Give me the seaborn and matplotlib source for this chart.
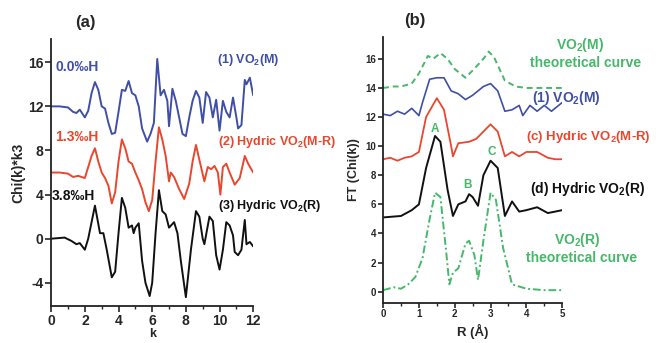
import numpy as np
import pandas as pd
import seaborn as sns
import matplotlib.pyplot as plt
from matplotlib.ticker import MultipleLocator

# ---- panel (a): k-space EXAFS, chi(k)*k^3 ----
k_m = [0, 0.5, 1.0, 1.3, 1.5, 1.7, 2.0, 2.2, 2.4, 2.6, 2.8, 3.0, 3.2, 3.4, 3.6, 3.8, 4.0, 4.2, 4.4,
       4.6, 4.8, 5.0, 5.2, 5.4, 5.7, 5.9, 6.0, 6.1, 6.3, 6.5, 6.7, 6.9, 7.0, 7.2, 7.4, 7.6, 7.8, 8.0,
       8.2, 8.4, 8.6, 8.8, 9.0, 9.2, 9.4, 9.6, 9.8, 10.0, 10.2, 10.4, 10.6, 10.8, 11.0, 11.1, 11.3,
       11.5, 11.6, 11.7, 11.8, 12.0]
chi_m = [12.0, 12.0, 11.9, 11.5, 11.4, 11.7, 11.0, 11.6, 13.2, 14.2, 13.5, 12.0, 11.8, 10.5, 9.5,
         9.6, 11.5, 13.5, 13.4, 14.3, 13.2, 13.0, 12.0, 10.0, 8.8, 9.5, 10.0, 10.5, 16.3, 13.0,
         13.5, 12.5, 10.2, 13.6, 12.5, 11.0, 9.5, 9.3, 11.0, 12.5, 13.4, 12.8, 10.5, 13.3, 12.8,
         11.0, 12.6, 9.8, 12.5, 11.5, 11.0, 12.8, 11.0, 10.0, 10.3, 14.4, 14.0, 14.3, 14.6, 13.0]

k_mr = [0, 0.5, 1.0, 1.3, 1.6, 2.0, 2.2, 2.4, 2.6, 2.8, 3.0, 3.2, 3.4, 3.6, 3.8, 4.0, 4.2, 4.4,
        4.6, 4.8, 5.0, 5.2, 5.4, 5.6, 5.8, 6.0, 6.2, 6.4, 6.6, 6.8, 7.0, 7.1, 7.3, 7.6, 7.9, 8.2,
        8.4, 8.6, 8.9, 9.1, 9.3, 9.5, 9.7, 9.9, 10.05, 10.2, 10.4, 10.6, 10.9, 11.2, 11.5, 11.7, 12.0]
chi_mr = [6.0, 6.0, 5.9, 5.6, 5.7, 5.5, 6.5, 7.5, 8.2, 7.0, 6.0, 5.5, 4.8, 3.2, 4.2, 7.0, 9.0,
          8.2, 7.0, 6.8, 6.0, 5.3, 4.5, 3.3, 2.5, 3.5, 7.0, 10.1, 9.0, 7.5, 5.2, 6.0, 5.6, 4.5,
          3.6, 5.0, 7.0, 8.5, 6.5, 5.2, 6.5, 6.3, 6.6, 6.0, 4.0, 6.5, 6.8, 6.0, 4.9, 5.5, 7.5,
          6.8, 6.0]

k_r = [0, 0.8, 1.2, 1.5, 1.7, 2.0, 2.2, 2.4, 2.6, 2.9, 3.1, 3.3, 3.6, 3.8, 4.0, 4.2, 4.4, 4.6,
       4.8, 4.9, 5.0, 5.2, 5.4, 5.6, 5.85, 6.0, 6.2, 6.4, 6.6, 6.8, 7.0, 7.3, 7.5, 7.7, 8.0, 8.3,
       8.6, 8.8, 9.0, 9.1, 9.4, 9.6, 9.8, 10.0, 10.2, 10.4, 10.6, 10.8, 10.9, 11.1, 11.3, 11.5,
       11.6, 11.8, 12.0]
chi_r = [0.0, 0.1, -0.2, -0.5, -0.4, -1.0, 0.0, 1.5, 3.0, 0.5, 0.5, -1.0, -3.5, -3.0, 0.5, 3.7,
         2.8, 1.0, 1.2, 0.5, 1.0, 1.4, -2.0, -4.0, -5.2, -4.0, 0.5, 4.4, 2.5, 2.2, 1.0, 1.5,
         0.5, -2.0, -5.3, -1.0, 2.5, 2.0, 0.0, -0.5, 2.0, 1.6, -1.5, -2.8, -1.0, 1.5, 1.2, 0.3,
         -1.2, -1.5, -1.0, 1.7, -0.5, -0.3, -0.7]

# ---- panel (b): Fourier transforms, R-space ----
r_thm = [0, 0.3, 0.5, 0.8, 1.0, 1.25, 1.4, 1.6, 1.8, 2.0, 2.3, 2.5, 2.8, 2.95, 3.1, 3.4, 3.7, 4.0, 4.5, 5.0]
ft_thm = [14.0, 14.1, 14.1, 14.3, 15.0, 16.2, 16.0, 16.4, 16.0, 15.3, 14.7, 15.2, 16.0, 16.5,
          16.1, 14.5, 14.1, 14.0, 14.0, 14.0]

r_m = [0, 0.2, 0.4, 0.6, 0.8, 1.0, 1.1, 1.3, 1.5, 1.7, 1.9, 2.1, 2.3, 2.5, 2.8, 3.0, 3.2, 3.4,
       3.6, 3.8, 3.9, 4.1, 4.3, 4.5, 4.7, 5.0]
ft_m = [12.2, 12.1, 12.4, 12.2, 12.6, 12.1, 13.0, 14.6, 14.7, 14.7, 13.8, 13.6, 13.2, 13.5,
        14.1, 14.3, 13.8, 12.4, 12.5, 12.8, 12.1, 12.8, 12.4, 12.8, 12.4, 13.0]

r_mr = [0, 0.2, 0.4, 0.6, 0.8, 1.0, 1.2, 1.5, 1.7, 1.9, 1.95, 2.1, 2.4, 2.6, 2.8, 3.0, 3.2, 3.4,
        3.6, 3.8, 4.0, 4.3, 4.6, 4.8, 5.0]
ft_mr = [9.1, 9.2, 9.0, 9.2, 9.3, 9.6, 12.0, 13.3, 12.5, 10.0, 9.3, 10.2, 10.3, 10.5, 11.0,
         11.5, 11.0, 9.3, 9.6, 9.3, 9.6, 9.6, 9.2, 9.1, 9.1]

r_r = [0, 0.5, 0.8, 1.0, 1.2, 1.45, 1.6, 1.8, 1.95, 2.1, 2.3, 2.4, 2.5, 2.65, 2.8, 3.0, 3.2,
       3.4, 3.6, 3.8, 4.0, 4.3, 4.6, 5.0]
ft_r = [5.1, 5.2, 5.6, 6.0, 8.5, 10.7, 10.3, 7.0, 5.2, 6.0, 6.2, 6.7, 6.5, 5.9, 8.0, 9.0, 8.5,
        5.2, 6.2, 5.5, 5.6, 5.8, 5.4, 5.6]

r_thr = [0, 0.3, 0.5, 0.7, 0.9, 1.1, 1.3, 1.45, 1.6, 1.75, 1.85, 1.95, 2.1, 2.3, 2.4, 2.55,
         2.65, 2.8, 3.0, 3.15, 3.35, 3.6, 4.0, 4.5, 5.0]
ft_thr = [0.1, 0.3, 0.2, 0.5, 1.0, 2.3, 5.0, 6.8, 6.5, 3.0, 0.5, 1.3, 1.6, 3.3, 3.5, 2.5, 0.8,
          3.5, 6.8, 6.3, 3.0, 0.5, 0.2, 0.1, 0.1]

BLUE = "#3f4fa6"
RED = "#e8472e"
BLACK = "#111111"
GREEN = "#45b86a"

sns.set_style("ticks")
plt.rcParams['font.family'] = ['Liberation Sans', 'DejaVu Sans']
plt.rcParams['font.weight'] = 'bold'
plt.rcParams['axes.labelweight'] = 'bold'
plt.rcParams['axes.unicode_minus'] = False
plt.rcParams['mathtext.fontset'] = 'custom'
plt.rcParams['mathtext.rm'] = 'Liberation Sans:bold'
plt.rcParams['mathtext.bf'] = 'Liberation Sans:bold'

fig = plt.figure(figsize=(6.56, 3.43), dpi=100)
ax1 = fig.add_axes([0.078, 0.108, 0.308, 0.778])
ax2 = fig.add_axes([0.584, 0.118, 0.273, 0.774])

sns.lineplot(x=k_m, y=chi_m, ax=ax1, color=BLUE, lw=1.4)
sns.lineplot(x=k_mr, y=chi_mr, ax=ax1, color=RED, lw=1.4)
sns.lineplot(x=k_r, y=chi_r, ax=ax1, color=BLACK, lw=1.4)

ax1.set_xlim(0, 12)
ax1.set_ylim(-6.1, 18.1)
ax1.set_xticks(range(0, 13, 2))
ax1.xaxis.set_minor_locator(MultipleLocator(1))
ax1.set_yticks(range(-4, 17, 4))
ax1.set_xlabel("k", fontsize=9, labelpad=0)
ax1.set_ylabel("Chi(k)*k3", fontsize=10, labelpad=2)
ax1.tick_params(labelsize=10, width=1.2, length=4, pad=1.5)
ax1.tick_params(which='minor', width=1.0, length=2.5)

sns.lineplot(x=r_thm, y=ft_thm, ax=ax2, color=GREEN, lw=1.4, linestyle=(0, (3, 2)))
sns.lineplot(x=r_m, y=ft_m, ax=ax2, color=BLUE, lw=1.2)
sns.lineplot(x=r_mr, y=ft_mr, ax=ax2, color=RED, lw=1.3)
sns.lineplot(x=r_r, y=ft_r, ax=ax2, color=BLACK, lw=1.4)
sns.lineplot(x=r_thr, y=ft_thr, ax=ax2, color=GREEN, lw=1.4, linestyle=(0, (4, 1.5, 1, 1.5)))

ax2.set_xlim(0, 5)
ax2.set_ylim(-0.75, 17.5)
ax2.set_xticks(range(0, 6))
ax2.xaxis.set_minor_locator(MultipleLocator(0.5))
ax2.set_yticks(range(0, 17, 2))
ax2.set_xlabel("R (Å)", fontsize=9.5, labelpad=3)
ax2.set_ylabel("FT (Chi(k))", fontsize=9, labelpad=4)
ax2.tick_params(labelsize=7, width=1.2, length=3.5, pad=1.5)
ax2.tick_params(which='minor', width=1.0, length=2)

for ax in (ax1, ax2):
    sns.despine(ax=ax)
    for s in ('left', 'bottom'):
        ax.spines[s].set_linewidth(1.3)
        ax.spines[s].set_color('#222222')

# panel titles and annotations
fig.text(0.13, 0.935, "(a)", fontsize=12, fontweight='bold', ha='center', va='center')
fig.text(0.633, 0.94, "(b)", fontsize=12, fontweight='bold', ha='center', va='center')

fig.text(0.084, 0.805, "0.0‰H", color=BLUE, fontsize=10, va='center')
fig.text(0.084, 0.600, "1.3‰H", color=RED, fontsize=10, va='center')
fig.text(0.079, 0.429, "3.8‰H", color=BLACK, fontsize=10, va='center')
fig.text(0.331, 0.825, r"(1) VO$_2$(M)", color=BLUE, fontsize=9, va='center')
fig.text(0.332, 0.586, r"(2) Hydric VO$_2$(M-R)", color=RED, fontsize=9, va='center')
fig.text(0.332, 0.399, r"(3) Hydric VO$_2$(R)", color=BLACK, fontsize=9, va='center')

fig.text(0.884, 0.869, r"VO$_2$(M)", color=GREEN, fontsize=10, ha='center', va='center')
fig.text(0.893, 0.816, "theoretical curve", color=GREEN, fontsize=10, ha='center', va='center')
fig.text(0.811, 0.714, r"(1) VO$_2$(M)", color=BLUE, fontsize=10, va='center')
fig.text(0.802, 0.600, r"(c) Hydric VO$_2$(M-R)", color=RED, fontsize=9.5, va='center')
fig.text(0.808, 0.449, r"(d) Hydric VO$_2$(R)", color=BLACK, fontsize=10, va='center')
fig.text(0.88, 0.300, r"VO$_2$(R)", color=GREEN, fontsize=10, ha='center', va='center')
fig.text(0.887, 0.248, "theoretical curve", color=GREEN, fontsize=10, ha='center', va='center')

ax2.text(1.45, 11.2, "A", color=GREEN, fontsize=8.5, ha='center', va='center')
ax2.text(2.35, 7.3, "B", color=GREEN, fontsize=8.5, ha='center', va='center')
ax2.text(3.02, 9.6, "C", color=GREEN, fontsize=8.5, ha='center', va='center')

fig.savefig("out.png", dpi=100)
